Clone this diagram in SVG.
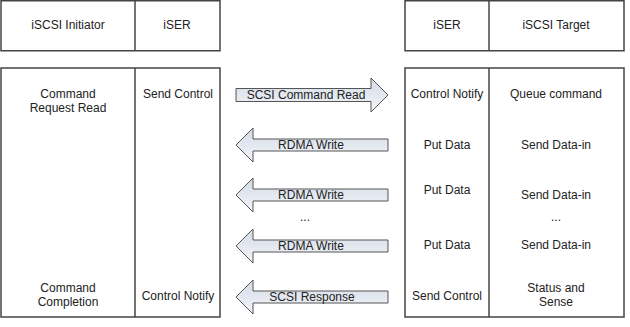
<svg xmlns="http://www.w3.org/2000/svg" width="630" height="327" viewBox="0 0 630 327">
<defs>
<linearGradient id="g" x1="0" y1="0" x2="0" y2="1">
<stop offset="0" stop-color="#d3dbe6"/>
<stop offset="1" stop-color="#f3f5f9"/>
</linearGradient>
<style>
.box{fill:#fff;stroke:#444;stroke-width:1.5}
.ln{stroke:#444;stroke-width:1.5}
.arr{fill:url(#g);stroke:#555;stroke-width:1}
text{font-family:"Liberation Sans",Arial,sans-serif;font-size:12px;fill:#222;text-anchor:middle}
</style>
</defs>
<rect width="630" height="327" fill="#fff"/>
<g id="initiator-header">
<rect class="box" x="1" y="0.75" width="219" height="50"/>
<line class="ln" x1="135" y1="0.75" x2="135" y2="50.75"/>
<text x="68" y="29">iSCSI Initiator</text>
<text x="177" y="29">iSER</text>
</g>
<g id="target-header">
<rect class="box" x="405" y="0.75" width="219" height="50"/>
<line class="ln" x1="489" y1="0.75" x2="489" y2="50.75"/>
<text x="447" y="29">iSER</text>
<text x="556" y="29">iSCSI Target</text>
</g>
<g id="initiator-body">
<rect class="box" x="1" y="68" width="219" height="249"/>
<line class="ln" x1="135" y1="68" x2="135" y2="317"/>
<text x="68" y="98">Command</text>
<text x="68" y="112">Request Read</text>
<text x="178" y="98">Send Control</text>
<text x="68" y="292">Command</text>
<text x="68" y="306">Completion</text>
<text x="178" y="300">Control Notify</text>
</g>
<g id="target-body">
<rect class="box" x="405" y="68" width="219" height="249"/>
<line class="ln" x1="489" y1="68" x2="489" y2="317"/>
<text x="447" y="98">Control Notify</text>
<text x="556" y="98">Queue command</text>
<text x="447" y="149">Put Data</text>
<text x="556" y="149">Send Data-in</text>
<text x="447" y="194">Put Data</text>
<text x="556" y="199">Send Data-in</text>
<text x="556" y="221">...</text>
<text x="447" y="249">Put Data</text>
<text x="556" y="249">Send Data-in</text>
<text x="447" y="300">Send Control</text>
<text x="556" y="292">Status and</text>
<text x="556" y="306">Sense</text>
</g>
<g id="connectors">
<g id="c1">
<path class="arr" d="M236,88.5 H371 V78 L388,95 L371,112 V101.5 H236 Z"/>
<text x="306" y="99">SCSI Command Read</text>
</g>
<g id="c2">
<path class="arr" d="M236,145 L253,128 V139 H388 V151 H253 V162 Z"/>
<text x="311" y="149">RDMA Write</text>
</g>
<g id="c3">
<path class="arr" d="M236,195 L253,178 V189 H388 V201 H253 V212 Z"/>
<text x="311" y="199">RDMA Write</text>
</g>
<text x="305" y="221">...</text>
<g id="c4">
<path class="arr" d="M236,246 L253,229 V240 H388 V252 H253 V263 Z"/>
<text x="311" y="250">RDMA Write</text>
</g>
<g id="c5">
<path class="arr" d="M236,297 L253,280 V291 H388 V303 H253 V314 Z"/>
<text x="312" y="301">SCSI Response</text>
</g>
</g>
</svg>
